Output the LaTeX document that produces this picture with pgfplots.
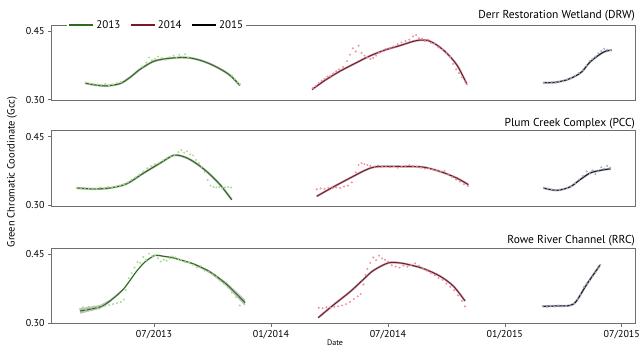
\documentclass[border=0pt]{standalone}
\usepackage{fontspec}
\setmainfont{PT Sans}
\usepackage{pgfplots}
\pgfplotsset{compat=1.18}
\definecolor{g13}{HTML}{2E6A1E}
\definecolor{g13p}{HTML}{A6DB8E}
\definecolor{r14}{HTML}{821428}
\definecolor{r14p}{HTML}{F08AA0}
\definecolor{k15}{HTML}{161B2B}
\definecolor{k15p}{HTML}{A4ACC0}
\definecolor{axisgray}{HTML}{6E6E6E}
\definecolor{halo}{HTML}{B8B8B8}
\pgfplotsset{
  panel/.style={scale only axis, width=584.7pt, height=75.5pt,
    xmin=0.715, xmax=30.715, ymin=0.298, ymax=0.463,
    axis line style={draw=axisgray, line width=0.8pt},
    ytick={0.30,0.45}, yticklabels={0.30,0.45},
    ytick pos=left, xtick pos=bottom, tick align=outside,
    major tick length=3pt, tick style={draw=axisgray, line width=0.6pt},
    ticklabel style={font=\fontsize{10}{12}\selectfont},
    /pgf/number format/assume math mode=true,
    anchor=north west},
  pts/.style={only marks, mark=*, color=#1, mark size=0.8pt, mark options={draw=none, fill=#1, fill opacity=0.6}, forget plot},
  fit/.style={smooth, color=#1, line width=1pt, forget plot},
  hal/.style={smooth, color=halo, line width=2.2pt, forget plot},
}
\begin{document}
\begin{tikzpicture}
\useasboundingbox (0,0) rectangle (641pt,352pt);
% ---------------- Panel 1: DRW ----------------
\begin{axis}[panel, at={(51pt,327pt)}, xtick=\empty,
  legend style={at={(rel axis cs:0.027,1)}, anchor=west, draw=none, fill=white,
    legend columns=3, font=\fontsize{11}{13}\selectfont, inner sep=1pt,
    /tikz/every even column/.append style={column sep=7pt}},
  legend image code/.code={\draw[#1, line width=2.4pt] (0pt,0pt) -- (24pt,0pt);}]
\addlegendimage{color=g13}\addlegendentry{2013}
\addlegendimage{color=r14}\addlegendentry{2014}
\addlegendimage{color=black}\addlegendentry{2015}
\addplot[pts=g13p] coordinates {(2.5,0.337)(2.7,0.335)(2.9,0.334)(3.1,0.333)(3.3,0.332)(3.5,0.334)(3.7,0.331)(3.9,0.333)(4.1,0.336)(4.3,0.338)(5.4,0.372)(5.6,0.381)(5.75,0.392)(5.9,0.386)(6.05,0.389)(6.2,0.394)(6.4,0.391)(6.6,0.387)(6.8,0.393)(7.0,0.396)(7.15,0.391)(7.3,0.398)(7.45,0.394)(7.6,0.399)(7.75,0.392)(10.0,0.352)(10.15,0.345)(10.3,0.338)(10.4,0.334)};
\addplot[pts=r14p] coordinates {(14.15,0.325)(14.3,0.330)(14.45,0.336)(14.6,0.341)(14.75,0.345)(14.9,0.350)(15.05,0.352)(15.2,0.357)(15.35,0.362)(15.5,0.366)(15.7,0.371)(15.9,0.384)(16.05,0.398)(16.2,0.412)(16.35,0.405)(16.5,0.418)(16.65,0.402)(16.8,0.396)(16.95,0.392)(17.1,0.389)(17.25,0.391)(17.4,0.396)(17.55,0.402)(17.7,0.407)(17.9,0.411)(18.1,0.413)(18.3,0.416)(18.5,0.421)(18.7,0.425)(18.9,0.428)(19.1,0.431)(19.3,0.438)(19.45,0.441)(19.6,0.434)(19.75,0.433)(19.9,0.428)(20.05,0.431)(20.2,0.424)(20.4,0.422)(20.6,0.414)(20.8,0.409)(21.0,0.401)(21.2,0.393)(21.35,0.378)(21.5,0.366)(21.65,0.358)(21.8,0.349)(21.95,0.340)(22.05,0.333)};
\addplot[pts=k15p] coordinates {(26.0,0.337)(26.2,0.336)(26.4,0.338)(26.6,0.337)(26.8,0.339)(27.0,0.340)(27.2,0.344)(27.4,0.347)(27.6,0.352)(27.8,0.358)(28.0,0.364)(28.2,0.374)(28.35,0.384)(28.5,0.389)(28.65,0.394)(28.8,0.401)(28.95,0.406)(29.1,0.411)(29.25,0.409)(29.4,0.408)};
\addplot[hal] coordinates {(2.46,0.336)(2.97,0.332)(3.57,0.330)(4.26,0.335)(4.77,0.3485)(5.28,0.366)(5.95,0.383)(6.56,0.389)(7.33,0.392)(7.85,0.391)(8.36,0.386)(8.87,0.378)(9.39,0.367)(9.90,0.353)(10.41,0.331)};
\addplot[fit=g13] coordinates {(2.46,0.336)(2.97,0.332)(3.57,0.330)(4.26,0.335)(4.77,0.3485)(5.28,0.366)(5.95,0.383)(6.56,0.389)(7.33,0.392)(7.85,0.391)(8.36,0.386)(8.87,0.378)(9.39,0.367)(9.90,0.353)(10.41,0.331)};
\addplot[hal] coordinates {(14.11,0.322)(14.77,0.342)(15.54,0.362)(16.31,0.379)(17.06,0.395)(17.83,0.408)(18.62,0.418)(19.28,0.427)(19.65,0.430)(20.06,0.429)(20.52,0.419)(21.03,0.401)(21.55,0.375)(22.04,0.335)};
\addplot[fit=r14] coordinates {(14.11,0.322)(14.77,0.342)(15.54,0.362)(16.31,0.379)(17.06,0.395)(17.83,0.408)(18.62,0.418)(19.28,0.427)(19.65,0.430)(20.06,0.429)(20.52,0.419)(21.03,0.401)(21.55,0.375)(22.04,0.335)};
\addplot[hal] coordinates {(25.97,0.337)(26.57,0.3375)(27.17,0.343)(27.60,0.351)(27.96,0.361)(28.37,0.382)(28.88,0.399)(29.19,0.406)(29.48,0.408)};
\addplot[fit=k15] coordinates {(25.97,0.337)(26.57,0.3375)(27.17,0.343)(27.60,0.351)(27.96,0.361)(28.37,0.382)(28.88,0.399)(29.19,0.406)(29.48,0.408)};
\end{axis}
% ---------------- Panel 2: PCC ----------------
\begin{axis}[panel, at={(51pt,221.3pt)}, xtick=\empty]
\addplot[pts=g13p] coordinates {(2.05,0.339)(2.25,0.336)(2.45,0.338)(2.65,0.335)(2.85,0.337)(3.05,0.336)(3.25,0.339)(3.45,0.337)(3.65,0.340)(3.85,0.338)(4.05,0.341)(4.25,0.343)(4.45,0.346)(4.65,0.350)(4.85,0.356)(5.05,0.361)(5.25,0.367)(5.45,0.374)(5.65,0.381)(5.85,0.386)(6.05,0.390)(6.25,0.393)(6.45,0.398)(6.65,0.403)(6.85,0.407)(7.05,0.410)(7.25,0.416)(7.4,0.421)(7.55,0.415)(7.7,0.418)(7.85,0.411)(8.0,0.409)(8.15,0.399)(8.3,0.392)(8.45,0.384)(8.6,0.373)(8.75,0.355)(8.9,0.343)(9.05,0.340)(9.2,0.339)(9.35,0.340)(9.5,0.338)(9.65,0.339)(9.8,0.340)(9.95,0.339)};
\addplot[pts=r14p] coordinates {(14.35,0.335)(14.55,0.337)(14.75,0.336)(14.95,0.338)(15.15,0.337)(15.35,0.339)(15.55,0.338)(15.75,0.341)(15.95,0.343)(16.15,0.350)(16.35,0.372)(16.5,0.388)(16.65,0.392)(16.8,0.390)(16.95,0.388)(17.1,0.386)(17.3,0.385)(17.5,0.387)(17.7,0.384)(17.9,0.386)(18.1,0.383)(18.3,0.385)(18.5,0.382)(18.7,0.384)(18.9,0.386)(19.1,0.388)(19.3,0.386)(19.5,0.385)(19.7,0.382)(19.9,0.380)(20.1,0.381)(20.3,0.378)(20.5,0.376)(20.7,0.373)(20.9,0.375)(21.1,0.368)(21.3,0.362)(21.5,0.356)(21.7,0.352)(21.9,0.346)(22.1,0.342)};
\addplot[pts=k15p] coordinates {(26.0,0.338)(26.2,0.336)(26.4,0.334)(26.6,0.333)(26.8,0.334)(27.0,0.336)(27.2,0.338)(27.4,0.342)(27.6,0.348)(27.8,0.356)(28.0,0.364)(28.2,0.374)(28.35,0.371)(28.5,0.376)(28.65,0.368)(28.8,0.374)(28.95,0.383)(29.1,0.380)(29.25,0.386)(29.4,0.382)};
\addplot[hal] coordinates {(2.03,0.3378)(2.89,0.3357)(3.74,0.3378)(4.60,0.347)(5.45,0.370)(6.31,0.392)(6.99,0.409)(7.50,0.4065)(8.02,0.3957)(8.70,0.374)(9.39,0.345)(9.99,0.312)};
\addplot[fit=g13] coordinates {(2.03,0.3378)(2.89,0.3357)(3.74,0.3378)(4.60,0.347)(5.45,0.370)(6.31,0.392)(6.99,0.409)(7.50,0.4065)(8.02,0.3957)(8.70,0.374)(9.39,0.345)(9.99,0.312)};
\addplot[hal] coordinates {(14.35,0.3196)(15.18,0.3396)(16.06,0.3596)(16.83,0.3765)(17.34,0.384)(18.11,0.3848)(18.88,0.3846)(19.81,0.3835)(20.67,0.374)(21.53,0.3596)(22.13,0.345)};
\addplot[fit=r14] coordinates {(14.35,0.3196)(15.18,0.3396)(16.06,0.3596)(16.83,0.3765)(17.34,0.384)(18.11,0.3848)(18.88,0.3846)(19.81,0.3835)(20.67,0.374)(21.53,0.3596)(22.13,0.345)};
\addplot[hal] coordinates {(25.97,0.3378)(26.66,0.3326)(27.34,0.340)(27.86,0.3559)(28.37,0.3704)(28.88,0.3761)(29.43,0.3798)};
\addplot[fit=k15] coordinates {(25.97,0.3378)(26.66,0.3326)(27.34,0.340)(27.86,0.3559)(28.37,0.3704)(28.88,0.3761)(29.43,0.3798)};
\end{axis}
% ---------------- Panel 3: RRC ----------------
\begin{axis}[panel, at={(51pt,103.7pt)}, xtick={6,12,18,24,30},
  xticklabels={07/2013,01/2014,07/2014,01/2015,07/2015}]
\addplot[pts=g13p] coordinates {(2.2,0.331)(2.35,0.334)(2.5,0.329)(2.65,0.335)(2.8,0.333)(2.95,0.336)(3.1,0.334)(3.3,0.338)(3.5,0.337)(3.7,0.339)(3.9,0.341)(4.1,0.343)(4.3,0.346)(4.45,0.351)(4.55,0.372)(4.7,0.398)(4.85,0.409)(5.0,0.421)(5.15,0.433)(5.3,0.431)(5.45,0.444)(5.6,0.438)(5.75,0.451)(5.9,0.446)(6.05,0.447)(6.2,0.441)(6.35,0.434)(6.5,0.438)(6.65,0.436)(6.8,0.441)(6.95,0.445)(7.1,0.443)(7.25,0.440)(7.4,0.438)(7.6,0.433)(7.8,0.432)(8.0,0.427)(8.2,0.421)(8.4,0.424)(8.6,0.414)(8.8,0.411)(9.0,0.406)(9.2,0.400)(9.4,0.392)(9.6,0.385)(9.8,0.377)(10.0,0.366)(10.2,0.356)(10.4,0.338)};
\addplot[pts=r14p] coordinates {(14.45,0.333)(14.65,0.332)(14.85,0.334)(15.05,0.333)(15.25,0.335)(15.45,0.336)(15.65,0.338)(15.85,0.341)(16.05,0.346)(16.25,0.352)(16.45,0.358)(16.6,0.363)(16.75,0.384)(16.85,0.405)(16.95,0.418)(17.1,0.431)(17.25,0.443)(17.4,0.437)(17.55,0.447)(17.7,0.441)(17.85,0.438)(18.0,0.434)(18.2,0.426)(18.4,0.423)(18.6,0.421)(18.8,0.425)(19.0,0.423)(19.2,0.427)(19.4,0.430)(19.6,0.425)(19.8,0.418)(20.0,0.414)(20.2,0.409)(20.4,0.404)(20.6,0.398)(20.8,0.394)(21.0,0.386)(21.2,0.379)(21.4,0.371)(21.6,0.360)(21.8,0.348)(21.95,0.336)};
\addplot[pts=k15p] coordinates {(25.95,0.337)(26.15,0.335)(26.35,0.337)(26.55,0.336)(26.75,0.338)(26.95,0.336)(27.15,0.337)(27.35,0.339)(27.55,0.342)(27.75,0.352)(27.9,0.362)(28.05,0.378)(28.2,0.386)(28.35,0.392)(28.5,0.401)(28.65,0.410)(28.8,0.419)(28.9,0.427)};
% confidence band 2013
\addplot[fill=halo, draw=none, fill opacity=0.9, forget plot] coordinates {(2.20,0.332)(3.23,0.339)(3.74,0.351)(4.42,0.3755)(5.11,0.415)(5.54,0.435)(6.05,0.4495)(6.46,0.4475)(6.99,0.4438)(8.02,0.4312)(8.87,0.4145)(9.73,0.3885)(10.67,0.351)(10.67,0.337)(9.73,0.3795)(8.87,0.4085)(8.02,0.4268)(6.99,0.4402)(6.46,0.4439)(6.05,0.4461)(5.54,0.4316)(5.11,0.411)(4.42,0.3705)(3.74,0.3446)(3.23,0.3306)(2.20,0.320)} -- cycle;
\addplot[fit=g13] coordinates {(2.20,0.326)(3.23,0.3348)(3.74,0.3478)(4.42,0.373)(5.11,0.413)(5.54,0.4333)(6.05,0.4478)(6.46,0.4457)(6.99,0.442)(8.02,0.429)(8.87,0.4115)(9.73,0.384)(10.67,0.344)};
\addplot[hal] coordinates {(14.43,0.3115)(15.29,0.342)(16.06,0.368)(16.74,0.3948)(17.25,0.4143)(18.02,0.431)(18.62,0.431)(19.13,0.4267)(19.82,0.4187)(20.67,0.4022)(21.36,0.3804)(21.96,0.3478)};
\addplot[fit=r14] coordinates {(14.43,0.3115)(15.29,0.342)(16.06,0.368)(16.74,0.3948)(17.25,0.4143)(18.02,0.431)(18.62,0.431)(19.13,0.4267)(19.82,0.4187)(20.67,0.4022)(21.36,0.3804)(21.96,0.3478)};
\addplot[hal] coordinates {(25.94,0.336)(26.62,0.337)(27.34,0.338)(27.68,0.348)(28.20,0.384)(28.88,0.426)};
\addplot[fit=k15] coordinates {(25.94,0.336)(26.62,0.337)(27.34,0.338)(27.68,0.348)(28.20,0.384)(28.88,0.426)};
\end{axis}
% ---------------- texts ----------------
\node[anchor=east, font=\fontsize{11.5}{13}\selectfont, inner sep=0pt] at (635pt,336.5pt) {Derr Restoration Wetland (DRW)};
\node[anchor=east, font=\fontsize{11.5}{13}\selectfont, inner sep=0pt] at (635pt,228.7pt) {Plum Creek Complex (PCC)};
\node[anchor=east, font=\fontsize{11.5}{13}\selectfont, inner sep=0pt] at (635pt,111.3pt) {Rowe River Channel (RRC)};
\node[rotate=90, font=\fontsize{10.5}{12}\selectfont, inner sep=0pt] at (12pt,180pt) {Green Chromatic Coordinate (Gcc)};
\node[font=\fontsize{8}{10}\selectfont, inner sep=0pt] at (335pt,9.3pt) {Date};
\end{tikzpicture}
\end{document}
